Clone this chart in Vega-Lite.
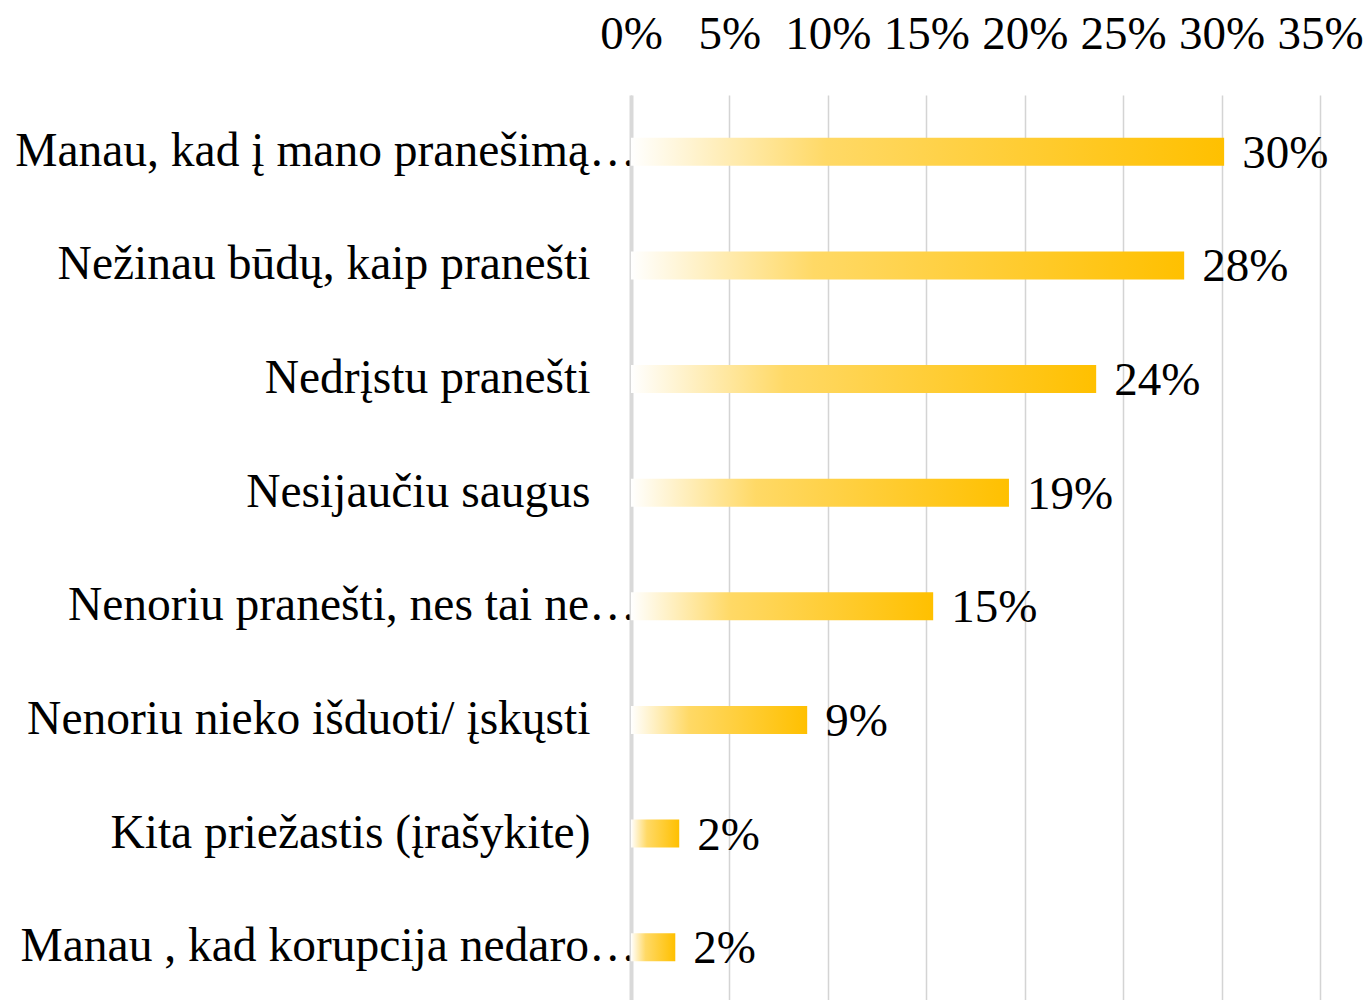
{
  "$schema": "https://vega.github.io/schema/vega-lite/v6.json",
  "width": 689,
  "height": 909,
  "autosize": {"type": "none"},
  "padding": {"left": 631, "top": 95, "right": 51, "bottom": 0},
  "background": "white",
  "config": {"view": {"stroke": null}, "font": "Liberation Serif"},
  "data": {
    "values": [
      {"reason": "Manau, kad į mano pranešimą…", "value": 0.3013},
      {"reason": "Nežinau būdų, kaip pranešti", "value": 0.281},
      {"reason": "Nedrįstu pranešti", "value": 0.2363},
      {"reason": "Nesijaučiu saugus", "value": 0.192},
      {"reason": "Nenoriu pranešti, nes tai ne…", "value": 0.1535},
      {"reason": "Nenoriu nieko išduoti/ įskųsti", "value": 0.0895},
      {"reason": "Kita priežastis (įrašykite)", "value": 0.0245},
      {"reason": "Manau , kad korupcija nedaro…", "value": 0.0225}
    ]
  },
  "encoding": {
    "y": {
      "field": "reason",
      "type": "nominal",
      "sort": null,
      "scale": {"paddingInner": 0.754, "paddingOuter": 0.377},
      "axis": {
        "title": null,
        "orient": "left",
        "ticks": false,
        "domainColor": "#d9d9d9",
        "domainWidth": 4,
        "labelFont": "Liberation Serif",
        "labelFontSize": 47.5,
        "labelColor": "#000000",
        "labelPadding": {"condition": {"test": "indexof(datum.label, '…') >= 0", "value": -5}, "value": 41},
        "labelLimit": 0
      }
    },
    "x": {
      "field": "value",
      "type": "quantitative",
      "scale": {"domain": [0, 0.35], "nice": false},
      "axis": {
        "title": null,
        "orient": "top",
        "values": [0, 0.05, 0.1, 0.15, 0.2, 0.25, 0.3, 0.35],
        "format": ".0%",
        "ticks": false,
        "domain": false,
        "grid": true,
        "gridColor": "#d4d4d4",
        "gridWidth": 1.5,
        "labelFont": "Liberation Serif",
        "labelFontSize": 47,
        "labelColor": "#000000",
        "labelPadding": 37,
        "labelFlush": false,
        "labelOverlap": false
      }
    }
  },
  "layer": [
    {
      "mark": {
        "type": "bar",
        "color": {
          "gradient": "linear",
          "x1": 0, "y1": 0, "x2": 1, "y2": 0,
          "stops": [
            {"offset": 0, "color": "#FFFFFF"},
            {"offset": 0.33, "color": "#FFD966"},
            {"offset": 1, "color": "#FFC000"}
          ]
        }
      }
    },
    {
      "mark": {
        "type": "text",
        "align": "left",
        "baseline": "middle",
        "dx": 18,
        "dy": 2,
        "font": "Liberation Serif",
        "fontSize": 47,
        "color": "#000000"
      },
      "encoding": {
        "text": {"field": "value", "type": "quantitative", "format": ".0%"}
      }
    }
  ]
}
